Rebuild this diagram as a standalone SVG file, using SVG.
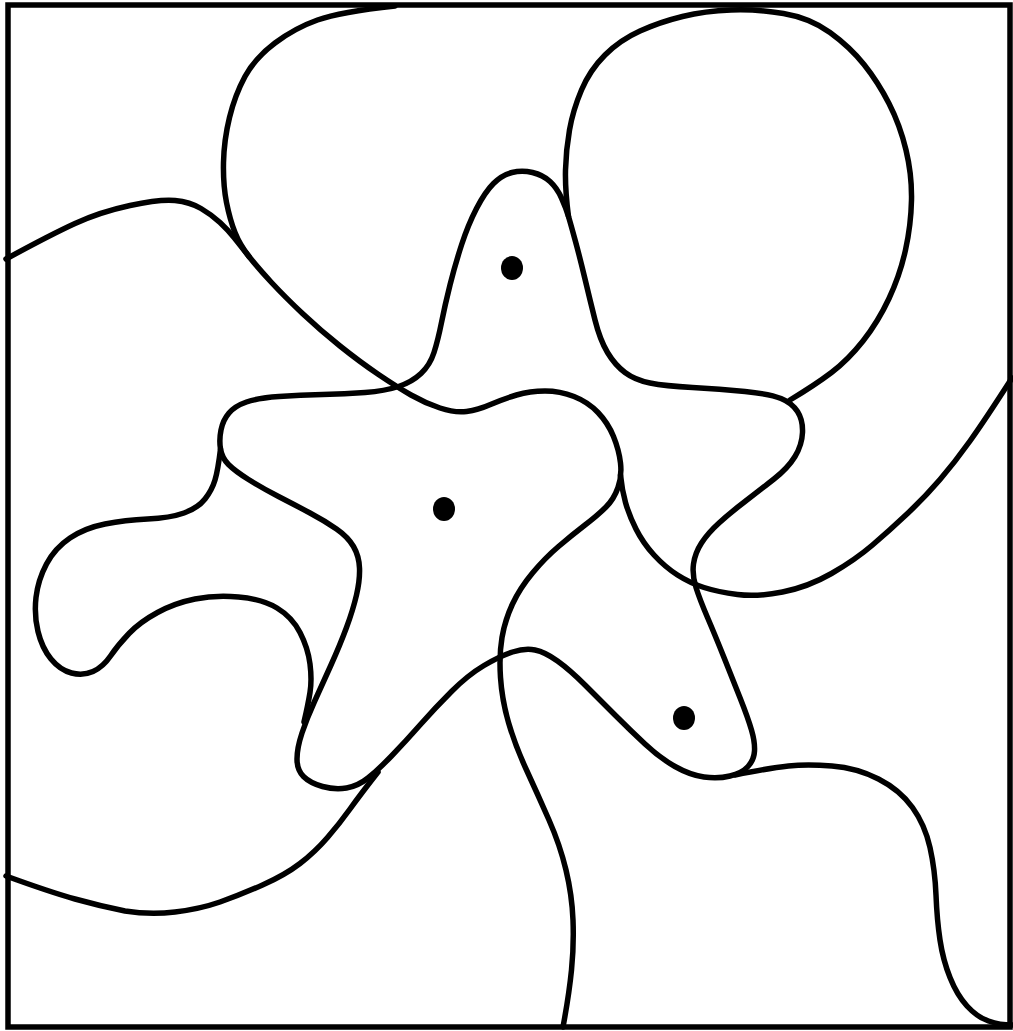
<svg xmlns="http://www.w3.org/2000/svg" width="1013" height="1031" viewBox="0 0 1013 1031">
<style>
.c{fill:none;stroke:#000;stroke-width:5.5;stroke-linecap:round;stroke-linejoin:round}
.d{fill:#000}
</style>
<rect x="0" y="0" width="1013" height="1031" fill="#fff"/>
<rect id="frame" class="c" x="8" y="5" width="1002" height="1022" style="stroke-linecap:butt;stroke-linejoin:miter"/>
<g id="curves">
<path id="blob-topleft" class="c" d="M395,6 Q340,12 317.5,20 Q295,28 275,43 Q255,58 245,76.5 Q235,95 229.5,117.5 Q224,140 223.5,162.5 Q223,185 226.5,202.5 Q230,220 235,232.5 Q240,245 249,256.5 Q258,268 271.5,282.5 Q285,297 302.5,313.5 Q320,330 340,346 Q360,362 378.5,374.5 Q397,387 411,395 Q425,403 440,408 Q455,413 466.5,411.5 Q478,410 490.5,404.5 Q503,399 516.5,395 Q530,391 545,391 Q560,391 574,396.5 Q588,402 598,412.5 Q608,423 613.5,436.5 Q619,450 620.5,463 Q622,476 618,487.5 Q614,499 606,507 Q598,515 585,525 Q572,535 558.5,546.5 Q545,558 532.5,573 Q520,588 512.5,604 Q505,620 502,637.5 Q499,655 500.5,677.5 Q502,700 508.5,722.5 Q515,745 526.5,770 Q538,795 549,820 Q560,845 566,870 Q572,895 573,920 Q574,945 571.5,970 Q569,995 563,1027"/>
<path id="bump-left" class="c" d="M6,259 Q50,235 75,223.5 Q100,212 130,205.5 Q160,199 175,200.5 Q190,202 201,208.5 Q212,215 220,222.5 Q228,230 234,237.5 Q240,245 249,256.5"/>
<path id="stars" class="c" d="M561.5,198 Q557,188 550,181.5 Q543,175 532.5,172.5 Q522,170 512,172.5 Q502,175 493.5,183.5 Q485,192 476.5,208.5 Q468,225 461.5,245 Q455,265 450,285 Q445,305 441.5,322.5 Q438,340 434,352.5 Q430,365 421,373.5 Q412,382 398.5,386.5 Q385,391 365,392.5 Q345,394 322.5,394.5 Q300,395 279,396.5 Q258,398 246.5,402 Q235,406 229,413 Q223,420 221,430 Q219,440 220.5,449 Q222,458 228.5,464.5 Q235,471 248.5,479.5 Q262,488 278.5,496.5 Q295,505 310,513 Q325,521 336.5,529 Q348,537 353.5,546.5 Q359,556 359.5,568 Q360,580 356.5,595 Q353,610 346.5,627.5 Q340,645 331,665 Q322,685 314.5,701.5 Q307,718 302,733 Q297,748 297,759 Q297,770 303.5,776.5 Q310,783 322.5,786.5 Q335,790 346.5,788 Q358,786 368,778 Q378,770 391.5,756 Q405,742 420,725 Q435,708 451.5,691.5 Q468,675 484,665.5 Q500,656 512.5,652 Q525,648 535,650 Q545,652 557.5,661 Q570,670 585,685 Q600,700 615,715 Q630,730 645,744 Q660,758 675,766.5 Q690,775 704,777 Q718,779 730,776 Q742,773 748,766.5 Q754,760 754.5,751 Q755,742 751.5,730 Q748,718 740.5,699 Q733,680 724,657.5 Q715,635 707.5,617.5 Q700,600 696,587.5 Q692,575 693.5,564 Q695,553 701.5,543 Q708,533 719,523 Q730,513 745,501.5 Q760,490 774,479 Q788,468 795,456.5 Q802,445 802.5,432.5 Q803,420 797.5,411.5 Q792,403 781,398.5 Q770,394 745,391.5 Q720,389 692.5,387.5 Q665,386 650,383 Q635,380 625,372.5 Q615,365 607.5,352.5 Q600,340 595,320 Q590,300 585,279 Q580,258 575.5,241.5 Q571,225 568.5,216.5 Q566,208 561.5,198 Z"/>
<path id="circle-topright" class="c" d="M568.5,216.5 Q565,190 565.5,170 Q566,150 569.5,130 Q573,110 581.5,90 Q590,70 605,55 Q620,40 640,31 Q660,22 682.5,16.5 Q705,11 731,10 Q757,9 783.5,13.5 Q810,18 830,32.5 Q850,47 864,64.5 Q878,82 889,103.5 Q900,125 906,150 Q912,175 911.5,200 Q911,225 905.5,250 Q900,275 889,298.5 Q878,322 863,341 Q848,360 831.5,372.5 Q815,385 790,400"/>
<path id="arc-right" class="c" d="M1012,378 Q985,420 970,441 Q955,462 940,479.5 Q925,497 907.5,513.5 Q890,530 872.5,545 Q855,560 831.5,573.5 Q808,587 782.5,592 Q757,597 737.5,594.5 Q718,592 704,587.5 Q690,583 677.5,575 Q665,567 654,555 Q643,543 636,529 Q629,515 625.5,502.5 Q622,490 620.5,475"/>
<path id="arc-bottomleft" class="c" d="M6,876 Q50,892 75,899 Q100,906 125,911 Q150,915 175,912 Q200,909 220,902 Q240,895 262.5,885 Q285,875 300,863.5 Q315,852 327.5,837.5 Q340,823 350,809 Q360,795 378,772"/>
<path id="hook-left" class="c" d="M220.5,449 Q218,470 215,480 Q212,490 205,499 Q198,508 184,513 Q170,518 147.5,519 Q125,520 105,524 Q85,528 70,538 Q55,548 46.5,564 Q38,580 36,597.5 Q34,615 38,631.5 Q42,648 51,659 Q60,670 71.5,673 Q83,676 93,671.5 Q103,667 110.5,656 Q118,645 129,633.5 Q140,622 157.5,612.5 Q175,603 195,599 Q215,595 238.5,597 Q262,599 277,608 Q292,617 300,632.5 Q308,648 310,664 Q312,680 310,692.5 Q308,705 304,722"/>
<path id="arc-bottomright" class="c" d="M735,775 Q770,768 788.5,766 Q807,764 832,766 Q857,768 878.5,779 Q900,790 912.5,807.5 Q925,825 930,847.5 Q935,870 936,895 Q937,920 940,940 Q943,960 950,977.5 Q957,995 967,1006 Q977,1017 988.5,1021 Q1000,1025 1012,1025"/>
</g>
<g id="dots">
<ellipse id="dot1" class="d" cx="512" cy="268" rx="11" ry="12"/>
<ellipse id="dot2" class="d" cx="444" cy="509" rx="11" ry="12"/>
<ellipse id="dot3" class="d" cx="684" cy="718" rx="11" ry="12"/>
</g>
</svg>
